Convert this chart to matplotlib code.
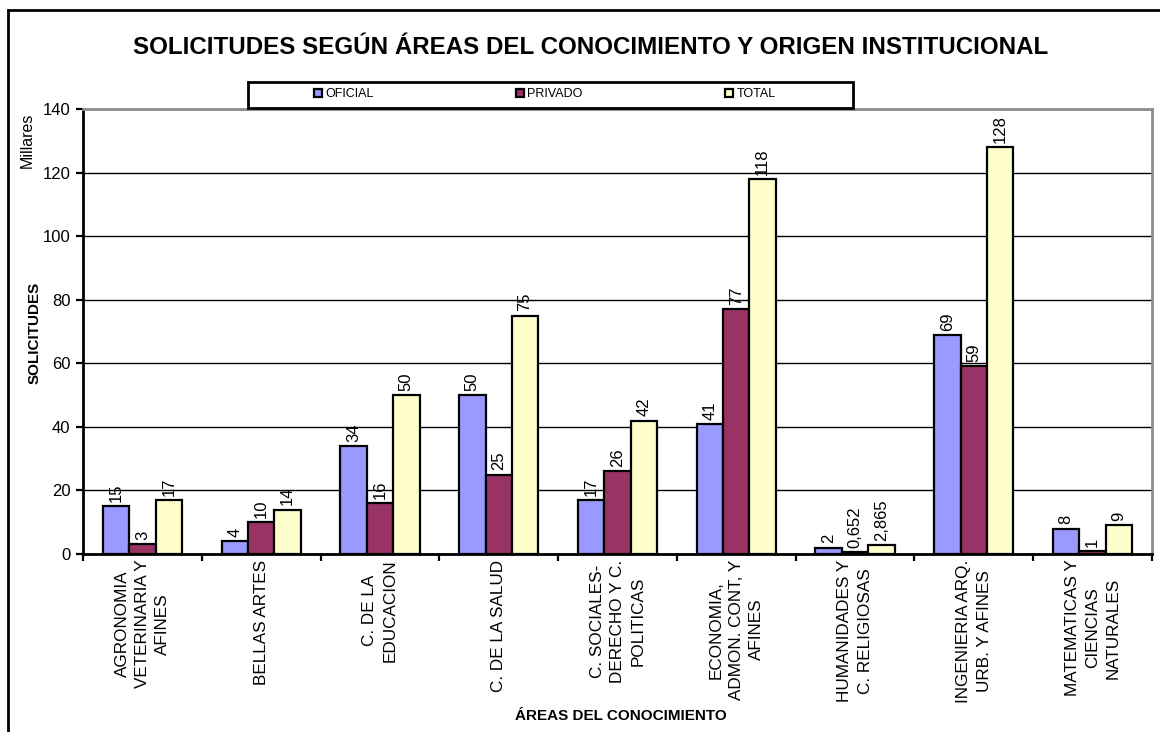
import numpy as np
import matplotlib.pyplot as plt
from matplotlib.patches import Rectangle

plt.rcParams['font.family'] = ['Liberation Sans', 'DejaVu Sans']

# Solicitudes (en miles) por área del conocimiento
areas = [
    "AGRONOMIA\nVETERINARIA Y\nAFINES",
    "BELLAS ARTES",
    "C. DE LA\nEDUCACION",
    "C. DE LA SALUD",
    "C. SOCIALES-\nDERECHO Y C.\nPOLITICAS",
    "ECONOMIA,\nADMON. CONT, Y\nAFINES",
    "HUMANIDADES Y\nC. RELIGIOSAS",
    "INGENIERIA ARQ.\nURB. Y AFINES",
    "MATEMATICAS Y\nCIENCIAS\nNATURALES",
]
oficial = [15, 4, 34, 50, 17, 41, 2, 69, 8]
privado = [3, 10, 16, 25, 26, 77, 0.652, 59, 1]
total = [17, 14, 50, 75, 42, 118, 2.865, 128, 9]

series = [("OFICIAL", oficial, "#9999FF"),
          ("PRIVADO", privado, "#993366"),
          ("TOTAL", total, "#FFFFCC")]

W, H = 1160, 732
fig = plt.figure(figsize=(W / 100, H / 100), dpi=100)
ax = fig.add_axes([83 / W, 1 - 554 / H, (1152 - 83) / W, (554 - 109) / H])

x = np.arange(len(areas))
bw = 1 / 4.5
for k, (name, vals, color) in enumerate(series):
    pos = x + (k - 1) * bw
    bars = ax.bar(pos, vals, width=bw, color=color, edgecolor="black",
                  linewidth=1.6, label=name, zorder=3)
    for rect, v in zip(bars, vals):
        txt = f"{v:g}".replace(".", ",")
        ax.annotate(txt, (rect.get_x() + rect.get_width() / 2, rect.get_height()),
                    xytext=(0, 3), textcoords="offset points", rotation=90,
                    ha="center", va="bottom", fontsize=12, zorder=4)

ax.set_xlim(-0.5, len(areas) - 0.5)
ax.set_ylim(0, 140)
ax.set_yticks(np.arange(0, 141, 20))
ax.yaxis.grid(True, color="black", linewidth=1, zorder=0)
ax.set_axisbelow(True)

ax.set_xticks(x)
ax.set_xticklabels(areas, rotation=90, fontsize=12.3, va="top", ha="center",
                   multialignment="center", linespacing=1.45)
ax.set_xticks(np.arange(-0.5, len(areas)), minor=True)
ax.tick_params(axis="x", which="major", length=0, pad=4)
ax.tick_params(axis="x", which="minor", length=5, width=1.6, direction="out")
ax.tick_params(axis="y", length=5, width=1.6, direction="out", pad=4,
               labelsize=12)

for side in ("left", "bottom"):
    ax.spines[side].set_color("black")
    ax.spines[side].set_linewidth(2)
for side in ("top", "right"):
    ax.spines[side].set_color("#8c8c8c")
    ax.spines[side].set_linewidth(2)

# Títulos y rótulos
fig.text(591 / W, 1 - 47 / H,
         "SOLICITUDES SEGÚN ÁREAS DEL CONOCIMIENTO Y ORIGEN INSTITUCIONAL",
         ha="center", va="center", fontsize=17.4, fontweight="bold")
fig.text(35 / W, 1 - 333 / H, "SOLICITUDES", rotation=90, ha="center",
         va="center", fontsize=11, fontweight="bold")
fig.text(27 / W, 1 - 140 / H, "Millares", rotation=90, ha="center",
         va="center", fontsize=11.5)
fig.text(621 / W, 1 - 716 / H, "ÁREAS DEL CONOCIMIENTO", ha="center",
         va="center", fontsize=11, fontweight="bold")

# Marco exterior y recuadro de la leyenda
fig.patches.append(Rectangle((8 / W, -0.05), (1175 - 8) / W, 1.05 - 10 / H,
                             transform=fig.transFigure, fill=False,
                             edgecolor="black", linewidth=2))
fig.patches.append(Rectangle((248 / W, 1 - 108 / H), (853 - 248) / W, 26 / H,
                             transform=fig.transFigure, facecolor="white",
                             edgecolor="black", linewidth=2, zorder=5))
leg = fig.legend(loc="center left", bbox_to_anchor=(314 / W, 1 - 94 / H),
                 ncol=3, frameon=False, fontsize=9, handlelength=0.6,
                 handleheight=0.6, handletextpad=0.3, columnspacing=11.4,
                 borderpad=0, borderaxespad=0)
leg.set_zorder(6)

fig.savefig("out.png", dpi=100)
